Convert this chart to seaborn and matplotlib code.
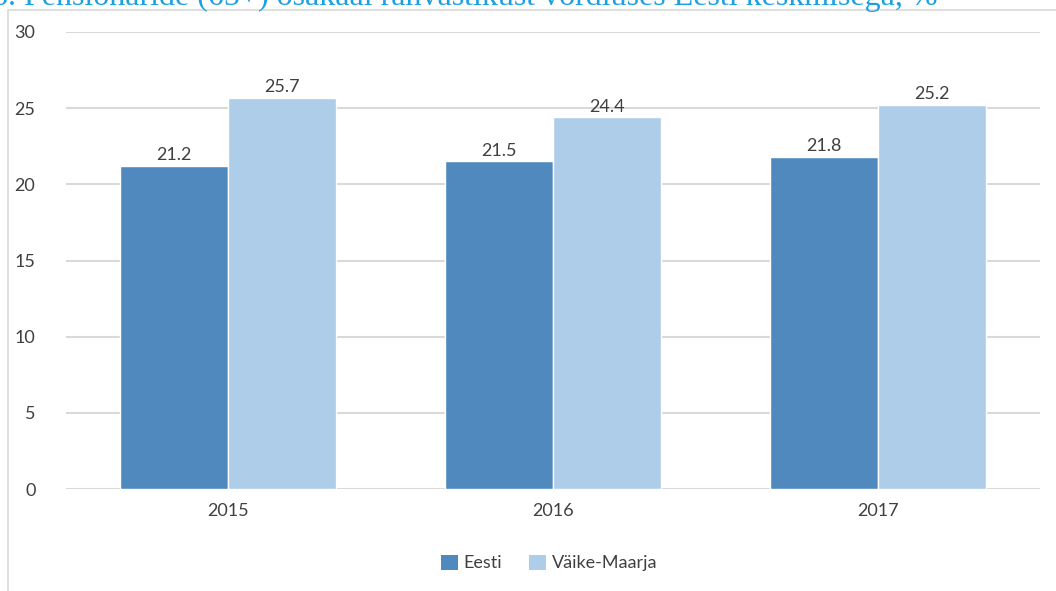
import matplotlib
matplotlib.use("Agg")
import matplotlib.pyplot as plt
import seaborn as sns
import pandas as pd
from matplotlib.patches import Rectangle, Patch

years = ["2015", "2016", "2017"]
series_names = ["Eesti", "Väike-Maarja"]
eesti = [21.2, 21.5, 21.8]
vaike_maarja = [25.7, 24.4, 25.2]
yticks = [0, 5, 10, 15, 20, 25, 30]
title = "6. Pensionäride (65+) osakaal rahvastikust võrdluses Eesti keskmisega, %"

colors = ["#4F89BD", "#AECDE9"]
text_color = "#404040"
grid_color = "#D9D9D9"

df = pd.DataFrame({
    "year": years * 2,
    "series": [series_names[0]] * 3 + [series_names[1]] * 3,
    "value": eesti + vaike_maarja,
})

sns.set_theme(style="white")
plt.rcParams["font.family"] = ["Lato", "DejaVu Sans"]

W, H = 1056, 591
fig = plt.figure(figsize=(W / 100, H / 100), dpi=100)
ax = fig.add_axes([66 / W, 1 - 489 / H, (1040 - 66) / W, (489 - 32) / H])

sns.barplot(data=df, x="year", y="value", hue="series", palette=colors,
            width=0.665, saturation=1, ax=ax, legend=False, errorbar=None)

ax.set_ylim(0, 30)
ax.set_yticks(yticks)
ax.set_yticklabels([str(t) for t in yticks])
ax.set_xlabel("")
ax.set_ylabel("")
for s in ax.spines.values():
    s.set_visible(False)
ax.grid(axis="y", color=grid_color, linewidth=1.5)
ax.set_axisbelow(True)
ax.tick_params(axis="both", length=0, labelsize=13, colors=text_color)
ax.tick_params(axis="y", pad=22)
ax.tick_params(axis="x", pad=10)

for cont in ax.containers:
    ax.bar_label(cont, labels=[f"{v:.1f}" for v in cont.datavalues],
                 padding=2, fontsize=13, color=text_color)

handles = [Patch(facecolor=c, edgecolor="none") for c in colors]
fig.legend(handles, series_names, loc="center", bbox_to_anchor=(549 / W, 1 - 563 / H),
           ncol=2, frameon=False, fontsize=13, handlelength=0.95, handleheight=0.95,
           handletextpad=0.3, columnspacing=1.5, labelcolor=text_color)

# outer frame (partially visible)
fig.patches.append(Rectangle((8 / W, -0.1), 1.2, 1 - 10 / H + 0.1, transform=fig.transFigure,
                             fill=False, edgecolor="#D9D9D9", linewidth=1.2))

fig.text(938 / W, 1 - 5 / H, title, ha="right", va="baseline",
         fontsize=23, color="#1BA1E2", family=["Liberation Serif", "DejaVu Serif"])

fig.savefig("out.png", dpi=100)
